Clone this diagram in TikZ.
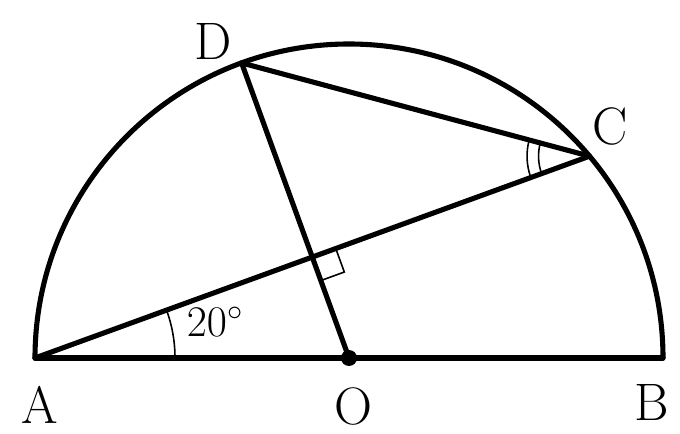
\documentclass[tikz,border=0pt]{standalone}
\usepackage{amsmath,amssymb}
\usetikzlibrary{positioning, calc}

\begin{document}
\begin{tikzpicture}[
    node distance=0.5cm,
    edge/.style={line width=2.9pt, line cap=round, line join=round},
    anglemark/.style={line width=0.9pt},
    ptlabel/.style={inner sep=0pt, font=\fontsize{30}{32}\selectfont},
    anglabel/.style={inner sep=0pt, font=\fontsize{26}{28}\selectfont},
  ]
    \useasboundingbox (0,0) rectangle (13.6,8.66);

    % Points
    \coordinate (O) at (6.98,1.5);
    \coordinate (A) at ($(O)+(180:6.28)$);
    \coordinate (B) at ($(O)+(0:6.28)$);
    \coordinate (C) at ($(O)+(40:6.28)$);
    \coordinate (D) at ($(O)+(110:6.28)$);
    \coordinate (E) at ($(A)!(O)!(C)$);

    % Semicircle and segments
    \draw[edge] (B) arc (0:180:6.28);
    \draw[edge] (A) -- (B);
    \draw[edge] (A) -- (C);
    \draw[edge] (C) -- (D);
    \draw[edge] (D) -- (O);
    \fill (O) circle (0.16);

    % Angle marks
    \draw[anglemark] ($(A)+(0:2.8)$) arc (0:20:2.8);
    \draw[anglemark] ($(C)+(165:1.25)$) arc (165:200:1.25);
    \draw[anglemark] ($(C)+(165:1.02)$) arc (165:200:1.02);
    \draw[anglemark] ($(E)+(20:0.5)$) -- ++(-70:0.5) -- ($(E)+(-70:0.5)$);

    % Labels
    \node[ptlabel, below=0.55cm of A, xshift=0.1cm] (lA) {A};
    \node[ptlabel, below=0.58cm of O, xshift=0.08cm] (lO) {O};
    \node[ptlabel, below=0.53cm of B, xshift=-0.22cm] (lB) {B};
    \node[ptlabel, above left=0.07cm and 0.18cm of D] (lD) {D};
    \node[ptlabel, above right=0.2cm and 0.06cm of C] (lC) {C};
    \node[anglabel] (l20) at ($(A)+(3.6,0.72)$) {$20^{\circ}$};
  \end{tikzpicture}
\end{document}
